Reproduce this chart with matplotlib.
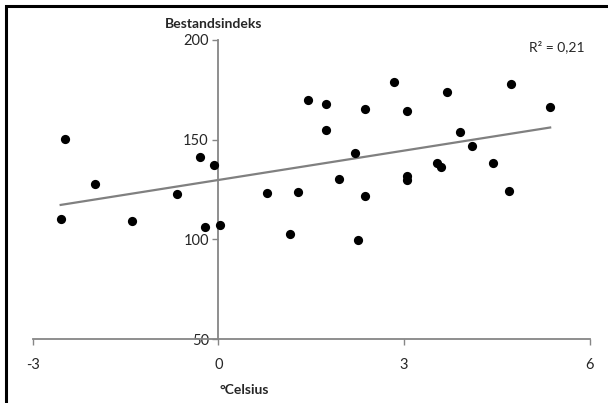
import numpy as np
import matplotlib
matplotlib.use("Agg")
import matplotlib.pyplot as plt
from matplotlib.patches import Rectangle

# Temperature anomaly (°C) vs. population index
celsius = [-2.55, -2.48, -1.99, -1.40, -0.67, -0.30, -0.21, -0.07, 0.03,
           0.79, 1.15, 1.28, 1.445, 1.74, 1.74, 1.95, 2.21, 2.25, 2.37,
           2.37, 2.84, 3.04, 3.04, 3.04, 3.53, 3.60, 3.70, 3.90, 4.10,
           4.43, 4.69, 4.72, 5.36]
bestandsindeks = [110.3, 150.3, 127.7, 109.3, 122.9, 141.1, 106.0, 137.3, 107.3,
                  123.0, 102.6, 123.9, 169.9, 167.9, 154.9, 130.4, 143.3, 99.7, 165.2,
                  121.9, 179.1, 164.6, 131.9, 129.7, 138.3, 136.1, 173.8, 154.0, 146.6,
                  138.3, 124.0, 178.0, 166.2]
x_ticks = [-3, 0, 3, 6]
y_ticks = [50, 100, 150, 200]
r2_label = "R² = 0,21"

plt.rcParams['font.family'] = ['Lato', 'DejaVu Sans']
plt.rcParams['axes.unicode_minus'] = False
text_col = "#262626"
axis_col = "#868686"

fig = plt.figure(figsize=(6.08, 4.03), dpi=100)
ax = fig.add_axes([0.054, 0.1588, 0.916, 0.742])

x = np.array(celsius)
y = np.array(bestandsindeks)
slope, intercept = np.polyfit(x, y, 1)
xl = np.array([x.min(), x.max()])
ax.plot(xl, slope * xl + intercept, color="#808080", lw=1.6, zorder=2)
ax.scatter(x, y, s=44, color="black", zorder=3, linewidths=0)

ax.set_xlim(-3, 6)
ax.set_ylim(50, 200)
ax.set_xticks(x_ticks)
ax.set_yticks(y_ticks)

for side in ("top", "right"):
    ax.spines[side].set_visible(False)
ax.spines["left"].set_position(("data", 0))
ax.spines["bottom"].set_position(("data", 50))
for side in ("left", "bottom"):
    ax.spines[side].set_color(axis_col)
    ax.spines[side].set_linewidth(1.3)
ax.tick_params(axis="both", direction="out", length=4, width=1.0,
               color=axis_col, labelsize=10.5, labelcolor=text_col)
ax.tick_params(axis="x", pad=10)
ax.tick_params(axis="y", pad=3)

fig.text(214 / 608, 1 - 24 / 403, "Bestandsindeks", ha="center", va="center",
         fontsize=10, fontweight="bold", color=text_col)
fig.text(244 / 608, 1 - 390 / 403, "°Celsius", ha="center", va="center",
         fontsize=10, fontweight="bold", color=text_col)
fig.text(585 / 608, 1 - 47 / 403, r2_label, ha="right", va="center",
         fontsize=10, color=text_col)

# outer chart frame (only the top-left edges fall inside the canvas)
fig.patches.append(Rectangle((5.5 / 608, -0.05), 1.2, 1 - 6 / 403 + 0.05,
                             transform=fig.transFigure, fill=False,
                             edgecolor="black", lw=2.2))

fig.savefig("out.png", dpi=100)
